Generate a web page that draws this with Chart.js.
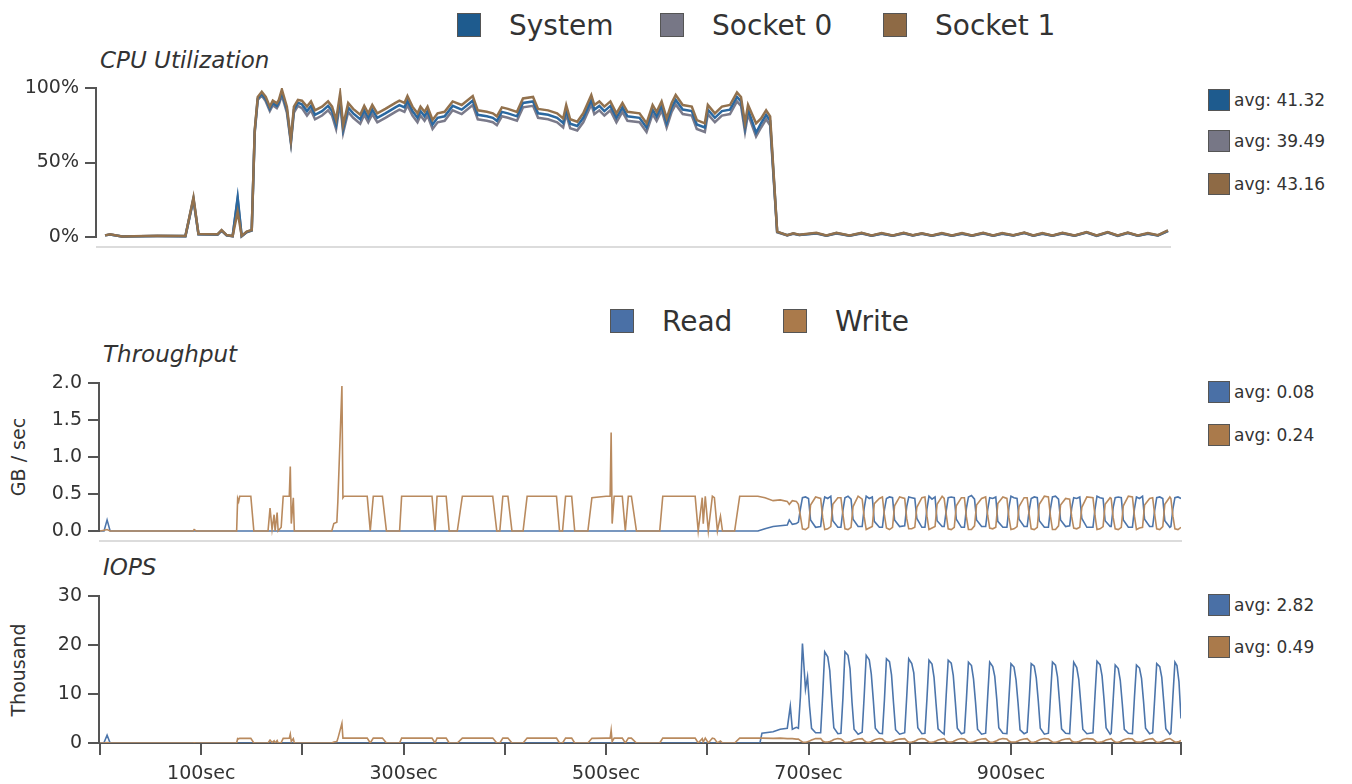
<!DOCTYPE html>
<html>
<head>
<meta charset="utf-8">
<title>CPU / Throughput / IOPS</title>
<script src="https://cdn.jsdelivr.net/npm/chart.js@4.4.0/dist/chart.umd.min.js"></script>
<style>
  body { margin: 0; background: #fff; width: 1352px; height: 784px; position: relative; overflow: hidden;
         font-family: "DejaVu Sans", sans-serif; color: #333; }
  canvas { position: absolute; left: 0; }
  .title { position: absolute; font-style: italic; font-size: 23px; line-height: 28px; white-space: nowrap; }
  .li { position: absolute; height: 30px; display: flex; align-items: center; font-size: 28px; white-space: nowrap; }
  .li .sw { width: 24px; height: 24px; margin-right: 28px; }
  .sw { box-sizing: border-box; border: 1px solid #555; display: inline-block; }
  .avg { position: absolute; left: 1208px; height: 24px; display: flex; align-items: center; font-size: 17px; white-space: nowrap; }
  .avg .sw { width: 22px; height: 22px; margin-right: 4px; }
  .ytitle { position: absolute; font-size: 19px; white-space: nowrap; transform: translate(-50%, -50%) rotate(-90deg); }
</style>
</head>
<body>

<div class="li" style="left:457px; top:10px"><span class="sw" style="background:#1e5b8e"></span>System</div>
<div class="li" style="left:660px; top:10px"><span class="sw" style="background:#777786"></span>Socket 0</div>
<div class="li" style="left:883px; top:10px"><span class="sw" style="background:#8e6a45"></span>Socket 1</div>
<div class="title" style="left:100px; top:46px">CPU Utilization</div>
<div id="cpuAvg"></div>

<div class="li" style="left:610px; top:306px"><span class="sw" style="background:#4a70a6"></span>Read</div>
<div class="li" style="left:783px; top:306px"><span class="sw" style="background:#aa7a4b"></span>Write</div>
<div class="title" style="left:103px; top:340px">Throughput</div>
<div class="ytitle" style="left:18px; top:457px">GB / sec</div>
<div id="tpAvg"></div>

<div class="title" style="left:103px; top:553px">IOPS</div>
<div class="ytitle" style="left:18px; top:670px">Thousand</div>
<div id="iopsAvg"></div>

<canvas id="cpuChart" width="1352" height="199" style="top:68px; width:1352px; height:199px"></canvas>
<canvas id="tpChart" width="1352" height="198" style="top:363px; width:1352px; height:198px"></canvas>
<canvas id="iopsChart" width="1352" height="208" style="top:576px; width:1352px; height:208px"></canvas>

<script>
// ---------- CPU utilization (%), time in sec ----------
const cpuTimes = [
  8, 13, 25, 60, 88, 96, 101, 120, 124, 129,
  135, 140, 144, 149, 154, 157, 160, 164, 168, 172,
  175, 179, 181, 184, 189, 193, 196, 200, 204, 209,
  213, 217, 224, 230, 234, 238, 242, 245, 250, 255,
  262, 266, 270, 274, 279, 287, 297, 301, 306, 309,
  314, 319, 322, 326, 329, 334, 339, 346, 354, 363,
  374, 379, 388, 394, 398, 403, 409, 418, 424, 434,
  439, 449, 458, 464, 467, 471, 478, 484, 492, 495,
  500, 505, 511, 517, 523, 528, 540, 547, 553, 557,
  562, 567, 572, 576, 583, 592, 597, 605, 608, 615,
  622, 630, 637, 641, 645, 648, 656, 661, 666, 670,
  677, 687, 693, 699, 716, 726, 736, 749, 761, 771,
  781, 792, 803, 812, 821, 831, 841, 851, 861, 871,
  882, 892, 901, 912, 923, 932, 941, 951, 961, 973,
  985, 995, 1006, 1016, 1026, 1036, 1046, 1056, 1066
];
const cpuSystem = [
  1.1, 1.7, 0.4, 0.7, 0.6, 25.8, 1.9, 1.7, 4.4, 1.2,
  0.6, 26.6, 0.6, 3.4, 4.5, 71.0, 93.0, 96.0, 92.5, 86.0,
  90.0, 88.0, 90.5, 97.0, 85.5, 64.0, 85.5, 90.0, 89.0, 84.5,
  88.0, 82.0, 84.5, 88.0, 84.5, 75.5, 93.0, 72.5, 87.0, 83.0,
  79.0, 85.0, 80.0, 85.5, 80.0, 83.0, 87.0, 88.5, 87.0, 91.5,
  84.5, 80.0, 84.5, 81.0, 84.5, 75.5, 80.0, 81.0, 88.0, 85.5,
  91.5, 82.0, 81.0, 80.0, 78.0, 84.0, 83.0, 81.0, 90.0, 91.0,
  83.0, 82.0, 80.0, 76.5, 85.5, 76.0, 74.5, 80.0, 92.0, 85.5,
  88.0, 84.5, 88.0, 80.0, 87.0, 81.0, 80.0, 73.5, 85.5, 81.0,
  88.0, 76.5, 87.0, 92.0, 85.5, 84.5, 75.5, 73.5, 85.5, 80.0,
  84.5, 85.5, 94.0, 91.0, 73.5, 85.5, 70.0, 76.5, 82.0, 78.0,
  3.4, 1.2, 2.3, 1.4, 2.6, 0.9, 2.6, 0.9, 2.6, 0.9,
  2.4, 0.9, 2.6, 1.1, 2.3, 0.9, 2.4, 0.9, 2.4, 0.9,
  2.6, 0.9, 2.4, 1.1, 2.8, 0.9, 2.4, 0.9, 2.6, 0.9,
  3.2, 0.9, 3.2, 0.9, 2.8, 0.9, 2.4, 1.1, 4.2
];
const cpuSocket0 = [
  1.1, 1.6, 0.4, 0.6, 0.5, 25.0, 1.8, 1.6, 4.1, 1.1,
  0.5, 25.5, 0.5, 3.2, 4.3, 70.0, 92.0, 95.0, 91.0, 84.5,
  88.5, 86.5, 89.0, 95.0, 83.5, 63.0, 83.5, 88.0, 86.5, 81.5,
  85.0, 79.0, 81.5, 85.0, 81.5, 72.5, 90.0, 70.0, 84.0, 80.0,
  76.0, 82.0, 77.0, 82.5, 77.0, 80.0, 84.0, 85.5, 84.0, 88.5,
  81.5, 77.0, 81.5, 78.0, 81.5, 72.5, 77.0, 78.0, 85.0, 82.5,
  88.5, 79.0, 78.0, 77.0, 75.0, 81.0, 80.0, 78.0, 87.0, 88.0,
  80.0, 79.0, 77.0, 73.5, 82.5, 73.0, 71.5, 77.0, 89.0, 82.5,
  85.0, 81.5, 85.0, 77.0, 84.0, 78.0, 77.0, 70.5, 82.5, 78.0,
  85.0, 73.5, 84.0, 89.0, 82.5, 81.5, 72.5, 70.5, 82.5, 77.0,
  81.5, 82.5, 91.0, 88.0, 70.5, 82.5, 67.5, 73.5, 79.0, 75.0,
  3.2, 1.1, 2.1, 1.3, 2.4, 0.8, 2.4, 0.8, 2.4, 0.8,
  2.2, 0.8, 2.4, 1.0, 2.1, 0.8, 2.2, 0.8, 2.2, 0.8,
  2.4, 0.8, 2.2, 1.0, 2.6, 0.8, 2.2, 0.8, 2.4, 0.8,
  3.0, 0.8, 3.0, 0.8, 2.6, 0.8, 2.2, 1.0, 4.0
];
const cpuSocket1 = [
  1.1, 1.8, 0.4, 0.8, 0.7, 26.6, 2.0, 1.8, 4.7, 1.3,
  0.7, 17.0, 0.7, 3.6, 4.7, 72.0, 94.0, 97.5, 94.0, 87.5,
  91.5, 89.7, 92.0, 99.0, 87.5, 65.0, 87.5, 92.0, 91.5, 87.5,
  91.0, 85.0, 87.5, 91.0, 87.5, 78.5, 96.4, 75.0, 90.0, 86.0,
  82.0, 88.0, 83.0, 88.6, 83.0, 86.0, 90.0, 91.5, 90.0, 94.6,
  87.5, 83.0, 87.5, 84.0, 87.5, 78.5, 83.0, 84.0, 91.0, 88.6,
  94.6, 85.0, 84.0, 83.0, 81.0, 87.0, 86.0, 84.0, 93.0, 94.0,
  86.0, 85.0, 83.0, 79.6, 88.6, 79.0, 77.4, 83.0, 95.3, 88.6,
  91.0, 87.5, 91.0, 83.0, 90.0, 84.0, 83.0, 76.3, 88.6, 84.0,
  91.0, 79.6, 90.0, 95.3, 88.6, 87.5, 78.5, 76.3, 88.6, 83.0,
  87.5, 88.6, 97.0, 94.0, 76.3, 88.6, 76.3, 79.6, 85.0, 81.0,
  3.6, 1.3, 2.5, 1.5, 2.8, 1.0, 2.8, 1.0, 2.8, 1.0,
  2.6, 1.0, 2.8, 1.2, 2.5, 1.0, 2.6, 1.0, 2.6, 1.0,
  2.8, 1.0, 2.6, 1.2, 3.0, 1.0, 2.6, 1.0, 2.8, 1.0,
  3.4, 1.0, 3.4, 1.0, 3.0, 1.0, 2.6, 1.2, 4.5
];
const cpuAvgs = ['41.32', '39.49', '43.16'];
const cpuTicks = [0, 50, 100];

// ---------- Throughput (GB/sec) ----------
const tpTimes = [
  0, 4, 7, 10, 92, 93, 95, 135, 136, 137,
  138, 149, 152, 166, 168, 170, 172, 173, 175, 176,
  179, 181, 187, 188, 189, 191, 192, 229, 231, 234,
  235, 239, 240, 241, 264, 267, 270, 279, 283, 296,
  298, 328, 331, 333, 342, 345, 353, 358, 388, 392,
  395, 398, 403, 407, 418, 422, 451, 454, 457, 460,
  466, 469, 482, 486, 500, 504, 505, 506, 508, 516,
  519, 522, 525, 530, 553, 556, 588, 591, 595, 596,
  598, 601, 605, 607, 610, 613, 615, 627, 632, 650,
  657, 665, 672, 679, 681, 684, 688,
  690, 692, 694, 697, 700, 702, 707,
  712, 714, 716, 719, 722, 724, 729,
  732, 734, 736, 739, 742, 744, 749,
  753, 755, 757, 760, 763, 765, 770,
  773, 775, 777, 780, 783, 785, 790,
  795, 797, 799, 802, 805, 807, 812,
  815, 817, 819, 822, 825, 827, 832,
  834, 836, 838, 841, 844, 846, 851,
  854, 856, 858, 861, 864, 866, 871,
  875, 877, 879, 882, 885, 887, 892,
  896, 898, 900, 903, 906, 908, 913,
  916, 918, 920, 923, 926, 928, 933,
  937, 939, 941, 944, 947, 949, 954,
  958, 960, 962, 965, 968, 970, 975,
  981, 983, 985, 988, 991, 993, 998,
  999, 1001, 1003, 1006, 1009, 1011, 1016,
  1020, 1022, 1024, 1027, 1030, 1032, 1037,
  1040, 1042, 1044, 1047, 1050, 1052, 1057,
  1058, 1060, 1062, 1065, 1068
];
const tpRead = [
  0, 0, 0.15, 0, 0, 0, 0, 0, 0, 0,
  0, 0, 0, 0, 0, 0, 0, 0, 0, 0,
  0, 0, 0, 0, 0, 0, 0, 0, 0, 0,
  0, 0, 0, 0, 0, 0, 0, 0, 0, 0,
  0, 0, 0, 0, 0, 0, 0, 0, 0, 0,
  0, 0, 0, 0, 0, 0, 0, 0, 0, 0,
  0, 0, 0, 0, 0, 0, 0, 0, 0, 0,
  0, 0, 0, 0, 0, 0, 0, 0, 0, 0,
  0, 0, 0, 0, 0, 0, 0, 0, 0, 0,
  0.03, 0.06, 0.07, 0.08, 0.15, 0.09, 0.10,
  0.12, 0.30, 0.45, 0.46, 0.44, 0.15, 0.05,
  0.06, 0.32, 0.46, 0.44, 0.47, 0.14, 0.05,
  0.05, 0.28, 0.45, 0.47, 0.43, 0.16, 0.06,
  0.06, 0.31, 0.47, 0.44, 0.46, 0.13, 0.05,
  0.05, 0.29, 0.44, 0.46, 0.45, 0.15, 0.06,
  0.07, 0.33, 0.46, 0.45, 0.44, 0.17, 0.05,
  0.05, 0.30, 0.47, 0.43, 0.46, 0.14, 0.06,
  0.06, 0.27, 0.45, 0.46, 0.45, 0.16, 0.05,
  0.05, 0.31, 0.46, 0.48, 0.43, 0.15, 0.06,
  0.06, 0.29, 0.45, 0.44, 0.46, 0.13, 0.05,
  0.05, 0.32, 0.47, 0.45, 0.44, 0.16, 0.06,
  0.06, 0.28, 0.44, 0.46, 0.45, 0.14, 0.05,
  0.05, 0.30, 0.46, 0.47, 0.43, 0.15, 0.06,
  0.07, 0.31, 0.45, 0.44, 0.46, 0.17, 0.05,
  0.05, 0.29, 0.47, 0.45, 0.44, 0.14, 0.06,
  0.06, 0.32, 0.45, 0.46, 0.45, 0.15, 0.05,
  0.05, 0.30, 0.46, 0.44, 0.47, 0.16, 0.06,
  0.06, 0.28, 0.45, 0.46, 0.44, 0.14, 0.05,
  0.06, 0.30, 0.45, 0.46, 0.44
];
const tpWrite = [
  0, 0.01, 0.02, 0, 0, 0.02, 0, 0, 0.44, 0.40,
  0.47, 0.47, 0, 0, 0.31, 0.02, 0.22, 0, 0.25, 0,
  0.05, 0.47, 0.47, 0.87, 0.10, 0.45, 0, 0, 0.10, 0.12,
  0.40, 1.96, 0.45, 0.47, 0.47, 0, 0.47, 0.47, 0, 0,
  0.47, 0.47, 0, 0.47, 0.47, 0, 0, 0.47, 0.47, 0,
  0, 0.47, 0.47, 0, 0, 0.47, 0.47, 0, 0, 0.47,
  0.47, 0, 0, 0.45, 0.47, 0.47, 1.33, 0.10, 0.47, 0.47,
  0, 0.47, 0.47, 0, 0, 0.47, 0.47, 0, 0.45, 0.10,
  0.47, 0, 0.47, 0.45, 0, 0.20, 0, 0, 0.47, 0.47,
  0.45, 0.41, 0.42, 0.40, 0.36, 0.41, 0.40,
  0.36, 0.20, 0.03, 0.02, 0.05, 0.35, 0.46,
  0.44, 0.18, 0.02, 0.03, 0.06, 0.36, 0.45,
  0.45, 0.22, 0.03, 0.02, 0.05, 0.33, 0.47,
  0.43, 0.19, 0.02, 0.04, 0.06, 0.37, 0.44,
  0.46, 0.21, 0.04, 0.02, 0.05, 0.34, 0.46,
  0.44, 0.17, 0.03, 0.03, 0.05, 0.32, 0.45,
  0.46, 0.20, 0.02, 0.04, 0.06, 0.36, 0.47,
  0.44, 0.23, 0.03, 0.02, 0.05, 0.34, 0.45,
  0.45, 0.19, 0.02, 0.02, 0.07, 0.35, 0.44,
  0.46, 0.21, 0.04, 0.03, 0.05, 0.37, 0.46,
  0.44, 0.18, 0.02, 0.03, 0.06, 0.33, 0.45,
  0.45, 0.22, 0.03, 0.02, 0.05, 0.36, 0.47,
  0.46, 0.20, 0.02, 0.02, 0.07, 0.35, 0.44,
  0.43, 0.19, 0.04, 0.03, 0.05, 0.32, 0.46,
  0.45, 0.21, 0.02, 0.03, 0.06, 0.36, 0.45,
  0.44, 0.18, 0.03, 0.02, 0.05, 0.34, 0.47,
  0.46, 0.20, 0.02, 0.04, 0.05, 0.35, 0.44,
  0.45, 0.22, 0.03, 0.02, 0.06, 0.36, 0.46,
  0.44, 0.20, 0.03, 0.02, 0.05
];
const tpAvgs = ['0.08', '0.24'];
const tpTicks = [0, 0.5, 1.0, 1.5, 2.0];

// ---------- IOPS (thousand) ----------
const iopsTimes = [
  0, 4, 7, 10, 92, 93, 95, 135, 136, 137,
  138, 149, 152, 166, 168, 170, 172, 173, 175, 176,
  179, 181, 187, 188, 189, 191, 192, 229, 231, 234,
  235, 239, 240, 241, 264, 267, 270, 279, 283, 296,
  298, 328, 331, 333, 342, 345, 353, 358, 388, 392,
  395, 398, 403, 407, 418, 422, 451, 454, 457, 460,
  466, 469, 482, 486, 500, 504, 505, 506, 508, 516,
  519, 522, 525, 530, 553, 556, 588, 591, 595, 596,
  598, 601, 605, 607, 610, 613, 615, 627, 632, 652,
  654, 665, 672, 679, 682, 684, 688,
  690, 692, 694, 697, 699, 701, 703, 707,
  712, 714, 716, 719, 721, 723, 725, 729,
  732, 734, 736, 739, 741, 743, 745, 749,
  753, 755, 757, 760, 762, 764, 766, 770,
  773, 775, 777, 780, 782, 784, 786, 790,
  795, 797, 799, 802, 804, 806, 808, 812,
  815, 817, 819, 822, 824, 826, 828, 832,
  834, 836, 838, 841, 843, 845, 847, 851,
  854, 856, 858, 861, 863, 865, 867, 871,
  875, 877, 879, 882, 884, 886, 888, 892,
  896, 898, 900, 903, 905, 907, 909, 913,
  916, 918, 920, 923, 925, 927, 929, 933,
  937, 939, 941, 944, 946, 948, 950, 954,
  958, 960, 962, 965, 967, 969, 971, 975,
  981, 983, 985, 988, 990, 992, 994, 998,
  999, 1001, 1003, 1006, 1008, 1010, 1012, 1016,
  1020, 1022, 1024, 1027, 1029, 1031, 1033, 1037,
  1040, 1042, 1044, 1047, 1049, 1051, 1053, 1057,
  1058, 1060, 1062, 1064, 1066, 1068
];
const iopsRead = [
  0, 0.1, 1.6, 0, 0, 0, 0, 0, 0, 0,
  0, 0, 0, 0, 0, 0, 0, 0, 0, 0,
  0, 0, 0, 0, 0, 0, 0, 0, 0, 0,
  0, 0, 0, 0, 0, 0, 0, 0, 0, 0,
  0, 0, 0, 0, 0, 0, 0, 0, 0, 0,
  0, 0, 0, 0, 0, 0, 0, 0, 0, 0,
  0, 0, 0, 0, 0, 0, 0, 0, 0, 0,
  0, 0, 0, 0, 0, 0, 0, 0, 0, 0,
  0, 0, 0, 0, 0, 0, 0, 0, 0, 0,
  2.0, 2.3, 2.8, 3.0, 7.5, 2.8, 3.2,
  3.0, 9.5, 20.3, 11.0, 13.5, 7.5, 3.0, 2.1,
  2.1, 9.8, 18.6, 17.6, 14.8, 8.6, 3.1, 1.9,
  2.0, 9.2, 18.6, 17.9, 15.2, 8.2, 2.8, 1.8,
  2.2, 9.6, 17.9, 17.0, 14.1, 8.8, 3.0, 2.0,
  1.9, 8.8, 17.2, 16.6, 13.9, 8.1, 2.7, 1.8,
  2.1, 9.4, 17.2, 16.2, 14.3, 8.7, 3.1, 1.9,
  2.0, 9.0, 16.9, 16.1, 13.4, 8.0, 2.9, 2.1,
  1.8, 9.7, 16.9, 16.3, 13.8, 8.5, 3.0, 1.9,
  2.1, 8.9, 16.5, 15.8, 13.1, 8.3, 2.8, 1.8,
  2.0, 9.5, 16.5, 15.6, 13.6, 8.9, 3.1, 2.0,
  1.9, 9.1, 16.2, 15.5, 12.9, 8.2, 2.7, 1.9,
  2.2, 8.8, 16.2, 15.7, 13.3, 8.6, 3.0, 1.8,
  2.0, 9.4, 16.5, 15.9, 13.5, 8.4, 2.9, 2.0,
  1.9, 9.2, 16.5, 15.4, 13.0, 8.1, 2.8, 1.9,
  2.1, 9.6, 16.7, 16.0, 13.7, 8.8, 3.1, 1.8,
  2.0, 8.9, 15.9, 15.2, 12.8, 8.0, 2.8, 2.0,
  1.9, 9.3, 15.9, 15.3, 13.2, 8.5, 3.0, 1.9,
  2.1, 9.0, 16.2, 15.6, 13.4, 8.3, 2.9, 1.8,
  2.0, 9.5, 16.5, 15.8, 12.5, 5.0
];
const iopsWrite = [
  0, 0, 0.1, 0, 0, 0.05, 0, 0, 0.9, 0.85,
  0.95, 0.95, 0, 0, 0.6, 0.1, 0.45, 0, 0.5, 0,
  0.1, 0.95, 1.0, 1.8, 0.3, 0.9, 0, 0, 0.2, 0.3,
  0.9, 4.0, 1.0, 1.0, 1.0, 0, 1.0, 1.0, 0, 0,
  1.0, 1.0, 0, 1.0, 1.0, 0, 0, 1.0, 1.0, 0,
  0, 1.0, 1.0, 0, 0, 1.0, 1.0, 0, 0, 1.0,
  1.0, 0, 0, 0.95, 1.0, 1.0, 2.6, 0.3, 1.0, 1.0,
  0, 1.0, 1.0, 0, 0, 1.0, 1.0, 0, 0.9, 0.2,
  1.0, 0, 1.0, 0.9, 0, 0.4, 0, 0, 1.0, 1.0,
  1.0, 0.95, 1.0, 0.9, 0.9, 0.9, 0.8,
  0.8, 0.5, 0.2, 0.15, 0.25, 0.4, 0.6, 0.9,
  0.9, 0.4, 0.2, 0.2, 0.3, 0.45, 0.7, 0.9,
  0.8, 0.5, 0.15, 0.2, 0.25, 0.4, 0.6, 0.8,
  0.9, 0.5, 0.2, 0.15, 0.3, 0.5, 0.7, 0.9,
  0.8, 0.4, 0.2, 0.2, 0.25, 0.4, 0.6, 0.8,
  0.9, 0.5, 0.15, 0.2, 0.3, 0.45, 0.7, 0.9,
  0.8, 0.5, 0.2, 0.15, 0.25, 0.4, 0.6, 0.8,
  0.9, 0.4, 0.2, 0.2, 0.3, 0.5, 0.7, 0.9,
  0.8, 0.5, 0.15, 0.2, 0.25, 0.4, 0.6, 0.8,
  0.9, 0.5, 0.2, 0.15, 0.3, 0.45, 0.7, 0.9,
  0.8, 0.4, 0.2, 0.2, 0.25, 0.4, 0.6, 0.8,
  0.9, 0.5, 0.15, 0.2, 0.3, 0.5, 0.7, 0.9,
  0.8, 0.5, 0.2, 0.15, 0.25, 0.4, 0.6, 0.8,
  0.9, 0.4, 0.2, 0.2, 0.3, 0.45, 0.7, 0.9,
  0.8, 0.5, 0.15, 0.2, 0.25, 0.4, 0.6, 0.8,
  0.9, 0.5, 0.2, 0.15, 0.3, 0.5, 0.7, 0.9,
  0.8, 0.4, 0.2, 0.2, 0.25, 0.4, 0.6, 0.8,
  0.9, 0.5, 0.15, 0.2, 0.3, 0.45, 0.7, 0.9,
  0.8, 0.5, 0.2, 0.2, 0.3, 0.5
];
const iopsAvgs = ['2.82', '0.49'];
const iopsTicks = [0, 10, 20, 30];

const timeLabels = [100, 300, 500, 700, 900];

const FONT = '"DejaVu Sans", sans-serif';
Chart.defaults.font.family = FONT;

// right-hand "avg" boxes
function addAvgs(holderId, avgs, colors, centers) {
  const holder = document.getElementById(holderId);
  avgs.forEach((a, i) => {
    const d = document.createElement('div');
    d.className = 'avg';
    d.style.top = (centers[i] - 12) + 'px';
    d.innerHTML = '<span class="sw" style="background:' + colors[i] + '"></span>avg: ' + a;
    holder.appendChild(d);
  });
}
addAvgs('cpuAvg', cpuAvgs, ['#1e5b8e', '#777786', '#8e6a45'], [100, 141, 184]);
addAvgs('tpAvg', tpAvgs, ['#4a70a6', '#aa7a4b'], [392, 435]);
addAvgs('iopsAvg', iopsAvgs, ['#4a70a6', '#aa7a4b'], [605, 647]);

function series(times, values) {
  return times.map((t, i) => ({ x: t, y: values[i] }));
}

function lineSet(label, times, values, color, width, order) {
  return {
    label: label,
    data: series(times, values),
    borderColor: color,
    backgroundColor: color,
    borderWidth: width,
    pointRadius: 0,
    tension: 0,
    order: order
  };
}

// y axis line only between the first and last tick (the plot extends a bit below 0)
const yAxisLine = {
  id: 'yAxisLine',
  afterDraw(chart) {
    const y = chart.scales.y;
    const ctx = chart.ctx;
    const top = y.getPixelForValue(y.ticks[y.ticks.length - 1].value);
    const bot = y.getPixelForValue(y.ticks[0].value);
    ctx.save();
    ctx.strokeStyle = '#555';
    ctx.lineWidth = 2;
    ctx.beginPath();
    ctx.moveTo(y.right - 1, top - 1);
    ctx.lineTo(y.right - 1, bot + 1);
    ctx.stroke();
    ctx.restore();
  }
};

function buildOptions(o) {
  const x = {
    type: 'linear',
    min: 0,
    max: 1068,
    afterFit: s => { s.height = o.xHeight; }
  };
  if (o.xTicks) {
    x.border = { display: true, color: '#555', width: 2 };
    x.grid = { display: true, drawOnChartArea: false, drawTicks: true, tickLength: 12, color: '#555', lineWidth: 2 };
    x.ticks = {
      stepSize: 100,
      autoSkip: false,
      maxRotation: 0,
      padding: 8,
      color: '#333',
      font: { family: FONT, size: 19 },
      callback: v => timeLabels.includes(v) ? v + 'sec' : ''
    };
  } else {
    x.border = { display: true, color: '#dcdcdc', width: 2 };
    x.grid = { display: false };
    x.ticks = { display: false };
  }
  return {
    responsive: false,
    animation: false,
    events: [],
    layout: { padding: { left: 0, right: o.right, top: 20, bottom: o.bottom } },
    plugins: { legend: { display: false }, tooltip: { enabled: false } },
    scales: {
      x: x,
      y: {
        min: o.yMin,
        max: o.yMax,
        afterFit: s => { s.width = o.yWidth; },
        afterBuildTicks: s => { s.ticks = o.yTicks.map(v => ({ value: v })); },
        border: { display: false },
        grid: { drawOnChartArea: false, drawTicks: true, tickLength: 12, color: '#555', lineWidth: 2 },
        ticks: { callback: o.yLabel, color: '#333', padding: 6, font: { family: FONT, size: 19 } }
      }
    }
  };
}

document.addEventListener('DOMContentLoaded', function() {
  new Chart(document.getElementById('cpuChart'), {
    type: 'line',
    data: {
      datasets: [
        lineSet('Socket 1', cpuTimes, cpuSocket1, '#92714d', 2.5, 0),
        lineSet('System', cpuTimes, cpuSystem, '#2b68a0', 2.5, 1),
        lineSet('Socket 0', cpuTimes, cpuSocket0, '#7a7a8a', 2.5, 2)
      ]
    },
    options: buildOptions({
      right: 182, bottom: 20, xHeight: 0, xTicks: false, yWidth: 97,
      yMin: -6.7, yMax: 100, yTicks: cpuTicks, yLabel: v => v + '%'
    }),
    plugins: [yAxisLine]
  });

  new Chart(document.getElementById('tpChart'), {
    type: 'line',
    data: {
      datasets: [
        lineSet('Write', tpTimes, tpWrite, '#b98a5e', 1.6, 0),
        lineSet('Read', tpTimes, tpRead, '#4c75ab', 1.6, 1)
      ]
    },
    options: buildOptions({
      right: 171, bottom: 20, xHeight: 0, xTicks: false, yWidth: 100,
      yMin: -0.135, yMax: 2.0, yTicks: tpTicks, yLabel: v => v.toFixed(1)
    }),
    plugins: [yAxisLine]
  });

  new Chart(document.getElementById('iopsChart'), {
    type: 'line',
    data: {
      datasets: [
        lineSet('Write', iopsTimes, iopsWrite, '#b98a5e', 1.6, 0),
        lineSet('Read', iopsTimes, iopsRead, '#4c75ab', 1.6, 1)
      ]
    },
    options: buildOptions({
      right: 171, bottom: 0, xHeight: 41, xTicks: true, yWidth: 100,
      yMin: 0, yMax: 30, yTicks: iopsTicks, yLabel: v => String(v)
    }),
    plugins: [yAxisLine]
  });
});
</script>
</body>
</html>
